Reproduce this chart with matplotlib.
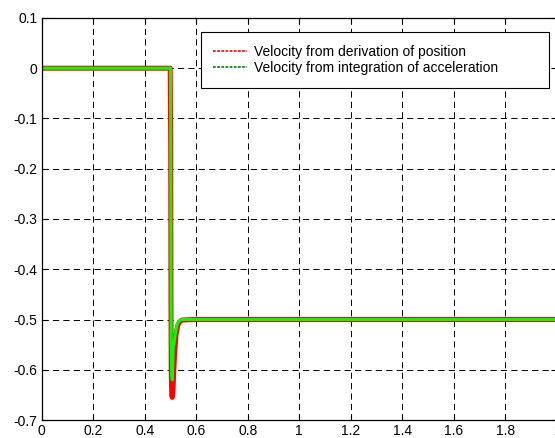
import matplotlib
matplotlib.use('Agg')
import matplotlib.pyplot as plt
from matplotlib.lines import Line2D

plt.rcParams['font.family'] = ['Liberation Sans', 'DejaVu Sans']
plt.rcParams['lines.scale_dashes'] = False

# velocity from derivation of position
t_pos = [0, 0.499, 0.501, 0.502, 0.503, 0.505, 0.507, 0.510, 0.513, 0.517, 0.522, 0.528, 0.535, 0.545, 0.6, 1.0, 1.5, 2.0]
v_pos = [0, 0, -0.15, -0.45, -0.6, -0.65, -0.655, -0.64, -0.6, -0.56, -0.53, -0.512, -0.505, -0.501, -0.5, -0.5, -0.5, -0.5]

# velocity from integration of acceleration
t_acc = [0, 0.5, 0.501, 0.502, 0.503, 0.505, 0.507, 0.509, 0.511, 0.513, 0.516, 0.52, 0.526, 0.533, 0.545, 0.6, 1.0, 1.5, 2.0]
v_acc = [0, 0, -0.15, -0.4, -0.55, -0.61, -0.62, -0.59, -0.545, -0.55, -0.54, -0.525, -0.51, -0.503, -0.5, -0.5, -0.5, -0.5, -0.5]

xticks = [0, 0.2, 0.4, 0.6, 0.8, 1, 1.2, 1.4, 1.6, 1.8, 2]
xlabels = ['0', '0.2', '0.4', '0.6', '0.8', '1', '1.2', '1.4', '1.6', '1.8', '2']
yticks = [0.1, 0, -0.1, -0.2, -0.3, -0.4, -0.5, -0.6, -0.7]
ylabels = ['0.1', '0', '-0.1', '-0.2', '-0.3', '-0.4', '-0.5', '-0.6', '-0.7']

fig = plt.figure(figsize=(5.55, 4.38), dpi=100)
ax = fig.add_axes([0.0751, 0.041, 0.928, 0.918])

ax.plot(t_pos, v_pos, color='#ff0000', linewidth=3.6, solid_joinstyle='round')
ax.plot(t_acc, v_acc, color='#00ff00', linewidth=2.2, solid_joinstyle='round')

ax.set_xlim(0, 2)
ax.set_ylim(-0.7, 0.1)
ax.set_xticks(xticks)
ax.set_xticklabels(xlabels)
ax.set_yticks(yticks)
ax.set_yticklabels(ylabels)
ax.tick_params(direction='in', length=4, width=0.8, top=True, right=True,
               labelsize=10, pad=3, colors='black')
ax.grid(True, color='black', linestyle=(0, (4.5, 3)), linewidth=0.7)
for s in ax.spines.values():
    s.set_linewidth(0.9)

handles = [Line2D([], [], color='#ff0000', linestyle=(0, (2, 1)), linewidth=1.2),
           Line2D([], [], color='#008000', linestyle=(0, (2, 1)), linewidth=1.2)]
leg = ax.legend(handles, ['Velocity from derivation of position',
                          'Velocity from integration of acceleration          '],
                loc='upper left', bbox_to_anchor=(0.309, 0.965), borderaxespad=0,
                fontsize=10, frameon=True, fancybox=False, framealpha=1,
                edgecolor='black', handlelength=2.4, handletextpad=0.5,
                borderpad=0.9, labelspacing=0.2)
leg.get_frame().set_linewidth(0.8)

fig.savefig('out.png', dpi=100)
